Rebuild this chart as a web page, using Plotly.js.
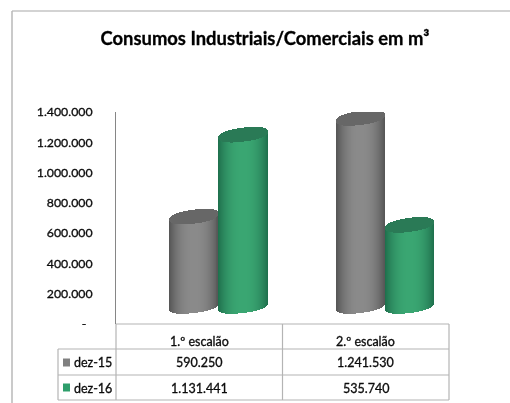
<!DOCTYPE html>
<html><head><meta charset="utf-8">
<script src="https://cdn.plot.ly/plotly-3.0.1.min.js"></script>
<style>html,body{margin:0;padding:0;background:#fff}#c{width:510px;height:403px;filter:blur(0.4px)}
#c text{stroke:#000;stroke-width:0.3px}</style>
</head><body><div id="c"></div>
<script>
const categories = ['1.º escalão', '2.º escalão'];
const dez15 = [590250, 1241530];
const dez16 = [1131441, 535740];
const seriesNames = ['dez-15', 'dez-16'];
const yTickVals = [0, 200000, 400000, 600000, 800000, 1000000, 1200000, 1400000];
const yTickText = ['-\u00a0\u00a0', '200.000', '400.000', '600.000', '800.000', '1.000.000', '1.200.000', '1.400.000'];

const W = 510, H = 403, L = 116, R = 449, T = 112, B = 324;
const FONT = 'Lato, "Open Sans", sans-serif';
const pxX = 2 / (R - L), pxY = 1400000 / (B - T);
const fmt = v => String(v).replace(/\B(?=(\d{3})+$)/g, '.');
const paperX = p => (p - L) / (R - L);
const paperY = p => (B - p) / (B - T);

const lift = 18 * pxY, halfW = 24.6 * pxX, ry = 7 * pxY, skew = 3 * pxY, N = 50, EXP = 2.3;
const hex = c => c.map(Math.round);
const mix = (a, b, t) => `rgb(${hex(a.map((v, i) => v + (b[i] - v) * t)).join(',')})`;
const palettes = [
  {mid: [138, 138, 138], edge: [84, 84, 84], cap: 'rgb(103,103,103)'},
  {mid: [58, 166, 114], edge: [30, 110, 76], cap: 'rgb(42,122,86)'}
];
function cylinder(values, offset, pal, name) {
  const x = [], base = [], y = [], color = [], w = [];
  values.forEach((v, i) => {
    const cx = i + offset;
    for (let k = 0; k < N; k++) {
      const u = -1 + (2 * k + 1) / N;
      const h = Math.pow(1 - Math.pow(Math.abs(u), EXP), 1 / EXP) * ry, tilt = u * skew;
      const bot = lift + tilt - h;
      const topFront = lift + v + tilt - h;
      const topBack = lift + v + tilt + h;
      x.push(cx + u * halfW); base.push(bot); y.push(topFront - bot);
      color.push(mix(pal.mid, pal.edge, Math.pow(Math.abs(u), 2.4)));
      w.push(halfW * 2 / N * 1.15);
      x.push(cx + u * halfW); base.push(topFront); y.push(topBack - topFront);
      color.push(pal.cap);
      w.push(halfW * 2 / N * 1.15);
    }
  });
  return {type: 'bar', name, x, y, base, width: w, hoverinfo: 'skip', showlegend: false,
    marker: {color, line: {width: 0}}};
}
const data = [
  cylinder(dez15, 0.468, palettes[0], seriesNames[0]),
  cylinder(dez16, 0.763, palettes[1], seriesNames[1])
];

const line = (x0, y0, x1, y1, color = '#b4b4b4', width = 1.2) => ({type: 'line', xref: 'paper', yref: 'paper',
  x0: paperX(x0), x1: paperX(x1), y0: paperY(y0), y1: paperY(y1), line: {color, width}});
const TL = 58;
const shapes = [
  line(12, 11, 510, 11, '#c4c4c4', 1.5), line(12, 11, 12, 403, '#b8b8b8', 1.5),
  line(L, 324, R, 324), line(L, 324, L, 400), line(R, 324, R, 400),
  line((L + R) / 2, 324, (L + R) / 2, 400),
  line(TL, 349, R, 349), line(TL, 375, R, 375), line(TL, 400, R, 400), line(TL, 349, TL, 400)
];
[['#808080', 362.5], ['#2e9e6b', 387.5]].forEach(([c, m]) => shapes.push({type: 'rect', xref: 'paper', yref: 'paper',
  x0: paperX(63), x1: paperX(70), y0: paperY(m - 4), y1: paperY(m + 4), fillcolor: c, line: {width: 0}}));

const note = (text, px, py, xanchor = 'center') => ({text, xref: 'paper', yref: 'paper', x: paperX(px), y: paperY(py),
  xanchor, yanchor: 'middle', showarrow: false, font: {family: FONT, size: 12.5, color: '#111'}, borderpad: 0});
const annotations = [];
const centers = [(L + (L + R) / 2) / 2, ((L + R) / 2 + R) / 2];
categories.forEach((c, i) => {
  annotations.push(note(c, centers[i], 341));
  annotations.push(note(fmt(dez15[i]), centers[i], 362));
  annotations.push(note(fmt(dez16[i]), centers[i], 388));
});
annotations.push(note(seriesNames[0], 73, 362, 'left'));
annotations.push(note(seriesNames[1], 73, 388, 'left'));

Plotly.newPlot('c', data, {
  width: W, height: H, paper_bgcolor: '#fff', plot_bgcolor: '#fff', showlegend: false,
  barmode: 'overlay', bargap: 0,
  margin: {l: L, r: W - R, t: T, b: H - B, pad: 0},
  title: {text: 'Consumos Industriais/Comerciais em m³', x: 265 / W, xref: 'container', xanchor: 'center',
    y: 1 - 38.5 / H, yref: 'container', yanchor: 'middle', font: {family: FONT, size: 18.4, color: '#000', weight: 700}},
  xaxis: {range: [0, 2], visible: false, fixedrange: true},
  yaxis: {range: [0, 1400000], tickmode: 'array', tickvals: yTickVals, ticktext: yTickText,
    showgrid: false, zeroline: false, showline: true, linecolor: '#868686', linewidth: 1, ticks: '',
    ticklabelstandoff: 20, tickfont: {family: FONT, size: 12.3, color: '#111'}, fixedrange: true},
  shapes, annotations
}, {displayModeBar: false, staticPlot: true});
</script></body></html>
